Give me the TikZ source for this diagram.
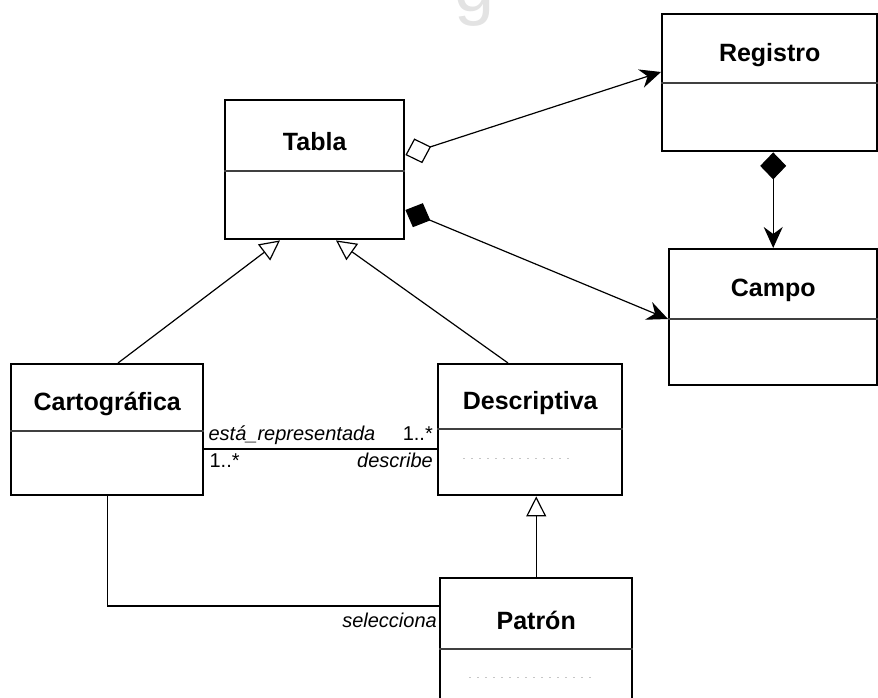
\documentclass[tikz,border=0pt]{standalone}
\usepackage{fontspec}
\setmainfont{Liberation Sans}
\usetikzlibrary{arrows.meta,calc}
\tikzset{
  cls/.style={draw, line width=2.4pt, inner sep=0pt, anchor=north west, fill=white},
  ctitle/.style={font=\fontsize{25}{29}\selectfont\bfseries, inner sep=0pt},
  lbl/.style={font=\fontsize{20}{24}\selectfont\itshape, inner sep=0pt},
  mult/.style={font=\fontsize{20}{24}\selectfont, inner sep=0pt},
  conn/.style={line width=1.2pt},
  divline/.style={line width=1.8pt, black!75},
  faint/.style={gray!45, line width=0.6pt, dash pattern=on 2pt off 6pt},
  genarrow/.style={-{Triangle[open,length=20pt,width=20pt,line width=1.2pt]}},
  headtip/.style={-{Stealth[length=21pt,width=19pt,inset=7pt]}}
}
\newcommand{\umlclass}[7]{%
  \node[cls, minimum width=#4pt, minimum height=#5pt] (#1) at (#2,#3) {};
  \draw[divline] ([yshift=-#6pt]#1.north west) -- ([yshift=-#6pt]#1.north east);
  \node[ctitle] (#1-t) at ($(#1.north)+(0,#6/2+7)$) {#7};
}
\begin{document}
\begin{tikzpicture}[x=1pt,y=-1pt]
\useasboundingbox (0,0) rectangle (878,698);
% faint watermark fragment
\node[font=\fontsize{72}{72}\selectfont, text=gray!22, anchor=base, inner sep=0pt] (wm) at (475,12) {g};

\umlclass{tabla}{224}{99}{179}{139}{72}{Tabla}
\umlclass{registro}{661}{13}{215}{137}{70}{Registro}
\umlclass{campo}{668}{248}{208}{136}{71}{Campo}
\umlclass{carto}{10}{363}{192}{131}{68}{Cartográfica}
\umlclass{desc}{437}{363}{184}{131}{66}{Descriptiva}
\umlclass{patron}{439}{577}{192}{135}{72}{Patrón}

% faint scan marks in lower compartments
\draw[faint] ([xshift=26pt,yshift=-95pt]desc.north west) -- ([xshift=-50pt,yshift=-95pt]desc.north east);
\draw[faint] ([xshift=30pt,yshift=-100pt]patron.north west) -- ([xshift=-40pt,yshift=-100pt]patron.north east);

% aggregation Tabla -> Registro
\coordinate (ag1) at ([yshift=-56pt]tabla.north east);
\coordinate (ag2) at ([yshift=-59pt]registro.north west);
\draw[conn, {Diamond[open,length=27pt,width=26pt,line width=1.2pt]}-{Stealth[length=21pt,width=19pt,inset=7pt]}] (ag1) -- (ag2);

% composition Tabla -> Campo
\coordinate (cp1) at ([yshift=-111pt]tabla.north east);
\coordinate (cp2) at ([yshift=-71pt]campo.north west);
\draw[conn, {Diamond[length=27pt,width=26pt]}-{Stealth[length=21pt,width=19pt,inset=7pt]}] (cp1) -- (cp2);

% composition Registro -> Campo
\draw[conn, {Diamond[length=27pt,width=26pt]}-{Stealth[length=21pt,width=19pt,inset=7pt]}] (campo.north |- registro.south) -- (campo.north);

% generalizations
\coordinate (g1a) at ([xshift=108pt]carto.north west);
\coordinate (g1b) at ([xshift=56pt]tabla.south west);
\draw[conn, genarrow] (g1a) -- (g1b);
\coordinate (g2a) at ([xshift=71pt]desc.north west);
\coordinate (g2b) at ([xshift=112pt]tabla.south west);
\draw[conn, genarrow] (g2a) -- (g2b);
\draw[conn, genarrow] (patron.north) -- (patron.north |- desc.south);

% association Cartografica - Descriptiva
\coordinate (as1) at ([yshift=-86pt]carto.north east);
\coordinate (as2) at (desc.west |- as1);
\draw[conn] (as1) -- (as2);
\node[lbl, anchor=base west] (l1) at ($(as1)+(4,-9)$) {está\_representada};
\node[mult, anchor=base east] (l2) at ($(as2)+(-4,-9)$) {1..*};
\node[mult, anchor=base west] (l3) at ($(as1)+(5,18)$) {1..*};
\node[lbl, anchor=base east] (l4) at ($(as2)+(-4,18)$) {describe};

% association Cartografica - Patron
\coordinate (s2) at ([yshift=-29pt]patron.north west);
\draw[conn] (carto.south) |- (s2);
\node[lbl, anchor=base east] (l5) at ($(s2)+(-2,21)$) {selecciona};
\end{tikzpicture}
\end{document}
